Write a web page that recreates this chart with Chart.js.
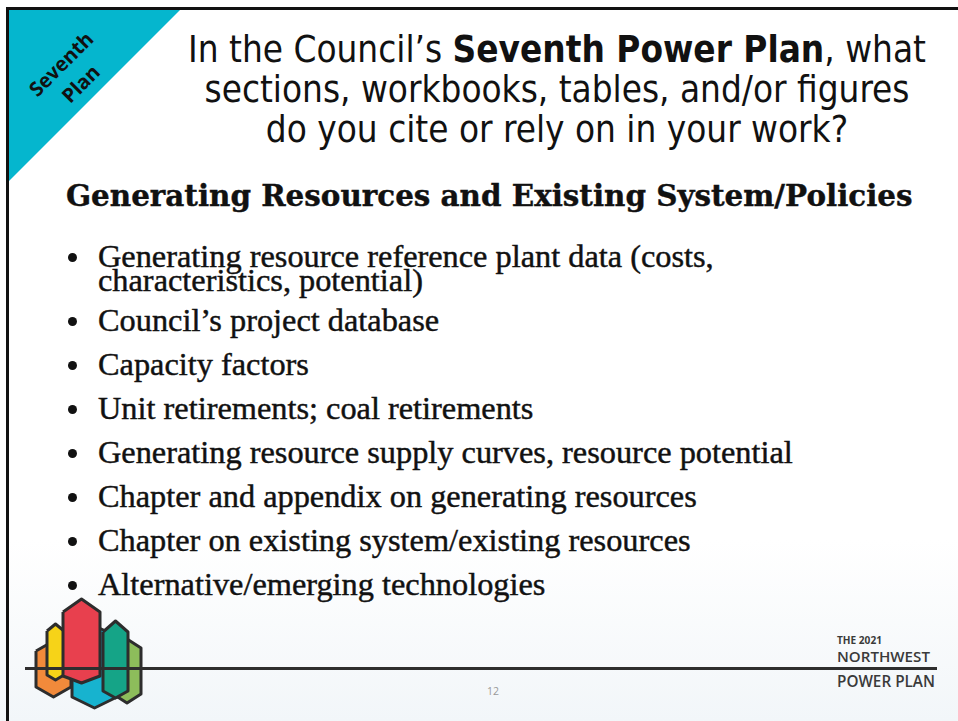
<!DOCTYPE html>
<html>
<head>
<meta charset="utf-8">
<script src="https://cdn.jsdelivr.net/npm/chart.js@4.4.1/dist/chart.umd.min.js"></script>
<style>
  html, body { margin: 0; padding: 0; }
  body {
    width: 958px; height: 721px; overflow: hidden; position: relative;
    background: linear-gradient(to bottom, #ffffff 0px, #ffffff 540px, #f2f6f9 721px);
  }
  .abs { position: absolute; }
  #borderTop { left: 6px; top: 7px; width: 952px; height: 3px; background: #111; z-index: 5; }
  #borderLeft { left: 6px; top: 7px; width: 3px; height: 714px; background: #111; z-index: 5; }
  #corner {
    left: 6px; top: 7px; width: 177px; height: 177px; background: #05b6ce;
    clip-path: polygon(0 0, 100% 0, 0 100%);
  }
  #cornerText {
    left: 71px; top: 74px; transform: translate(-50%, -50%) rotate(-45deg);
    font-family: "Open Sans", sans-serif; font-weight: 700; font-size: 20px;
    line-height: 28px; text-align: center; color: #111; white-space: nowrap;
  }
  #title {
    left: 150px; top: 30px; width: 814px; text-align: center;
    font-family: "DejaVu Sans Condensed", "DejaVu Sans", sans-serif; font-size: 32px;
    line-height: 40px; color: #111;
  }
  #title span { white-space: nowrap; display: inline-block; }
  #heading {
    left: 66px; top: 181px; font-family: "DejaVu Serif", serif; font-weight: 700;
    font-size: 26px; line-height: 30px; color: #111; white-space: nowrap;
    -webkit-text-stroke: 0.4px #111;
  }
  #bullets {
    left: 66px; top: 244px; margin: 0; padding: 0; list-style: none;
    font-family: "Liberation Serif", serif; font-size: 30px; line-height: 24px; color: #111;
    -webkit-text-stroke: 0.45px #111;
  }
  #bullets li { position: relative; padding-left: 32px; margin: 0 0 20px 0; white-space: pre-line; }
  #bullets li:first-child { margin-bottom: 16px; }
  #bullets li::before {
    content: ""; position: absolute; left: 2px; top: 9px; width: 9px; height: 9px;
    border-radius: 50%; background: #111;
  }
  #logo { left: 20px; top: 590px; width: 140px; height: 130px; z-index: 2; }
  #rule { left: 25px; top: 667px; width: 912px; height: 3px; background: #2e2e2e; z-index: 3; }
  .brand { left: 837px; font-family: "Open Sans", sans-serif; font-weight: 600; color: #3a3a3a;
    line-height: 1; white-space: nowrap; }
  #b1 { top: 635px; font-size: 10.5px; font-weight: 700; }
  #b2 { top: 649px; font-size: 15.5px; }
  #b3 { top: 674px; font-size: 15px; }
  #pageNo { left: 487px; top: 686px; font-family: "Open Sans", sans-serif; font-size: 10.5px;
    line-height: 1; color: #999; }
</style>
</head>
<body>
<div id="corner" class="abs"></div>
<div id="borderTop" class="abs"></div>
<div id="borderLeft" class="abs"></div>
<div id="cornerText" class="abs">Seventh<br>Plan</div>

<div id="title" class="abs">
  <span id="t1">In the Council’s <b>Seventh Power Plan</b>, what</span><br>
  <span id="t2">sections, workbooks, tables, and/or figures</span><br>
  <span id="t3">do you cite or rely on in your work?</span>
</div>

<div id="heading" class="abs"><span id="headText">Generating Resources and Existing System/Policies</span></div>
<ul id="bullets" class="abs"></ul>

<canvas id="logo" class="abs" width="140" height="130"></canvas>
<div id="rule" class="abs"></div>
<div id="b1" class="abs brand"><span>THE 2021</span></div>
<div id="b2" class="abs brand"><span>NORTHWEST</span></div>
<div id="b3" class="abs brand"><span>POWER PLAN</span></div>
<div id="pageNo" class="abs">12</div>

<script>
// Slide bullet text
const bulletItems = [
  'Generating resource reference plant data (costs,\ncharacteristics, potential)',
  'Council’s project database',
  'Capacity factors',
  'Unit retirements; coal retirements',
  'Generating resource supply curves, resource potential',
  'Chapter and appendix on generating resources',
  'Chapter on existing system/existing resources',
  'Alternative/emerging technologies'
];

// Logo columns, listed back to front (logo units: x 0-140, y 0-130 from top)
const logoNames = ['light green', 'orange', 'yellow', 'teal', 'red', 'green'];
const logoColors = ['#8dbd5b', '#f18a3b', '#f6d318', '#17b3cf', '#e8404e', '#15a487'];
const logoLeft = [93, 16, 27, 52, 43, 83];
const logoRight = [121, 51, 44, 97, 80, 108];
const logoTopTip = [49, 51, 34, 36, 9, 31];
const logoTopShoulder = [58, 61, 41, 46, 22, 42];
const logoBottomShoulder = [104, 97, 85, 107, 86, 101];
const logoBottomTip = [113, 107, 90, 118, 93, 108];

// scale a text element's font so its width matches the slide
function fitWidth(el, target) {
  const w = el.getBoundingClientRect().width;
  const fs = parseFloat(getComputedStyle(el).fontSize);
  return fs * target / w;
}

document.addEventListener("DOMContentLoaded", () => {
  const list = document.getElementById('bullets');
  bulletItems.forEach(t => {
    const li = document.createElement('li');
    li.textContent = t;
    list.appendChild(li);
  });

  // text sizes fitted to the widths in the slide
  const title = document.getElementById('title');
  title.style.fontSize = fitWidth(document.getElementById('t1'), 738) + 'px';
  const head = document.getElementById('heading');
  head.style.fontSize = fitWidth(document.getElementById('headText'), 847) + 'px';
  const probe = document.createElement('span');
  probe.textContent = bulletItems[4];
  probe.style.whiteSpace = 'nowrap';
  list.children[4].textContent = '';
  list.children[4].appendChild(probe);
  list.style.fontSize = fitWidth(probe, 695) + 'px';
  [['b1', 45], ['b2', 93], ['b3', 98]].forEach(([id, w]) => {
    const d = document.getElementById(id);
    d.style.fontSize = fitWidth(d.firstElementChild, w) + 'px';
  });

  // logo drawn as closed, filled polygons
  const n = logoNames.length;
  const datasets = logoNames.map((name, i) => {
    const mid = (logoLeft[i] + logoRight[i]) / 2;
    return {
      label: name,
      data: [
        {x: logoLeft[i], y: logoTopShoulder[i]},
        {x: mid, y: logoTopTip[i]},
        {x: logoRight[i], y: logoTopShoulder[i]},
        {x: logoRight[i], y: logoBottomShoulder[i]},
        {x: mid, y: logoBottomTip[i]},
        {x: logoLeft[i], y: logoBottomShoulder[i]},
        {x: logoLeft[i], y: logoTopShoulder[i]}
      ],
      showLine: true,
      fill: 'shape',
      backgroundColor: logoColors[i],
      borderColor: '#2d2d2d',
      borderWidth: 3,
      borderJoinStyle: 'round',
      pointRadius: 0,
      tension: 0,
      clip: false,
      order: n - i
    };
  });

  const ctx = document.getElementById('logo').getContext('2d');
  new Chart(ctx, {
    type: 'scatter',
    data: { datasets: datasets },
    options: {
      responsive: false,
      animation: false,
      events: [],
      layout: { padding: 0 },
      plugins: { legend: { display: false }, tooltip: { enabled: false } },
      scales: {
        x: { type: 'linear', min: 0, max: 140, display: false },
        y: { type: 'linear', min: 0, max: 130, reverse: true, display: false }
      }
    }
  });
});
</script>
</body>
</html>
